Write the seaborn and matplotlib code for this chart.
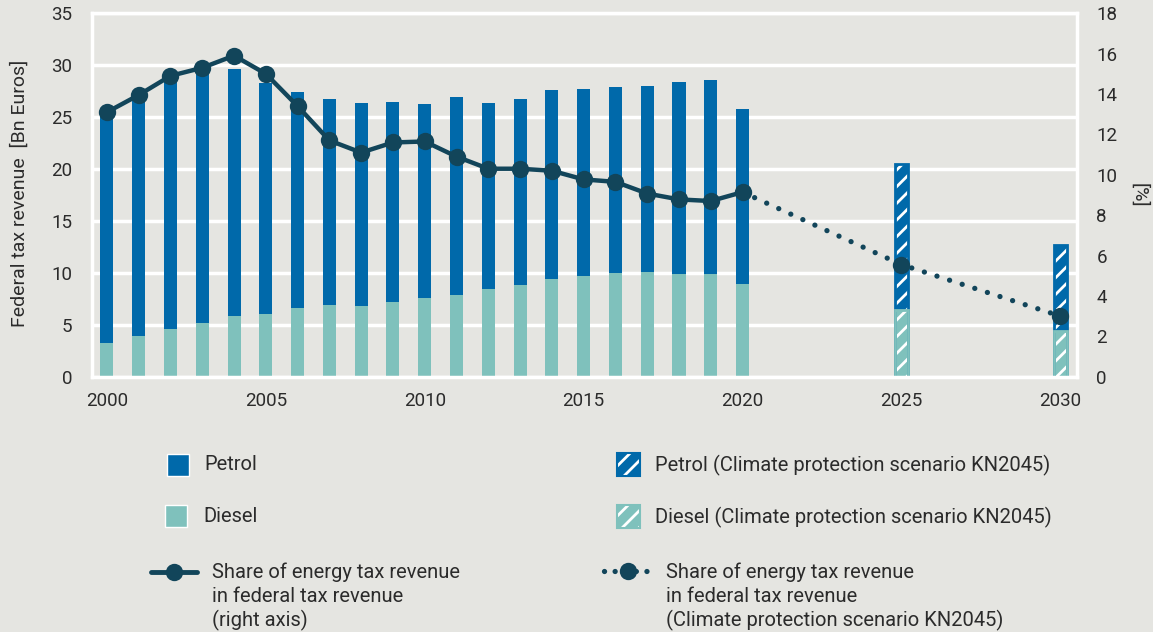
import numpy as np
import pandas as pd
import seaborn as sns
import matplotlib
matplotlib.use("Agg")
import matplotlib.pyplot as plt
from matplotlib.patches import Rectangle
from matplotlib.lines import Line2D

# ---------------- data ----------------
years = list(range(2000, 2021))
petrol = [22.3, 23.2, 24.2, 24.5, 23.8, 22.3, 20.8, 19.8, 19.55, 19.3, 18.7,
          19.0, 18.0, 17.9, 18.2, 18.0, 17.9, 17.9, 18.5, 18.7, 16.9]
diesel = [3.2, 3.9, 4.6, 5.2, 5.8, 6.0, 6.6, 6.9, 6.85, 7.2, 7.6,
          7.9, 8.4, 8.8, 9.4, 9.7, 10.0, 10.1, 9.9, 9.9, 8.9]
share = [13.1, 13.95, 14.9, 15.3, 15.9, 15.0, 13.4, 11.7, 11.1, 11.6, 11.65,
         10.9, 10.3, 10.3, 10.2, 9.77, 9.65, 9.07, 8.78, 8.7, 9.14]

scen_years = [2025, 2030]
scen_petrol = [14.1, 8.3]
scen_diesel = [6.4, 4.4]
scen_share_years = [2020, 2025, 2030]
scen_share = [9.14, 5.55, 3.0]

x_ticks = [2000, 2005, 2010, 2015, 2020, 2025, 2030]
left_ticks = [0, 5, 10, 15, 20, 25, 30, 35]
right_ticks = [0, 2, 4, 6, 8, 10, 12, 14, 16, 18]

labels_left = ["Petrol", "Diesel",
               "Share of energy tax revenue\nin federal tax revenue\n(right axis)"]
labels_right = ["Petrol (Climate protection scenario KN2045)",
                "Diesel (Climate protection scenario KN2045)",
                "Share of energy tax revenue\nin federal tax revenue\n(Climate protection scenario KN2045)"]

# ---------------- style ----------------
BG = "#e5e5e1"
PETROL = "#0069aa"
DIESEL = "#7fc1bc"
LINE = "#12455a"
TXT = "#2b2b2b"

sns.set_style("white")
plt.rcParams["font.family"] = ["Roboto", "DejaVu Sans"]
plt.rcParams["hatch.linewidth"] = 2.0

fig = plt.figure(figsize=(11.53, 6.32), dpi=100, facecolor=BG)
ax = fig.add_axes([0.0795, 0.404, 0.8545, 0.575])
ax.set_facecolor(BG)

hist = pd.DataFrame({"year": years,
                     "total": np.array(petrol) + np.array(diesel),
                     "diesel": diesel})
scen = pd.DataFrame({"year": scen_years,
                     "total": np.array(scen_petrol) + np.array(scen_diesel),
                     "diesel": scen_diesel})

W = 0.41                      # bar width in years
W_SCEN = W / 5.0              # seaborn scales width by min spacing (5 years)
# historic stacked bars
sns.barplot(data=hist, x="year", y="total", native_scale=True, width=W,
            color=PETROL, saturation=1, errorbar=None, linewidth=0, ax=ax)
sns.barplot(data=hist, x="year", y="diesel", native_scale=True, width=W,
            color=DIESEL, saturation=1, errorbar=None, linewidth=0, ax=ax)
# scenario hatched bars
sns.barplot(data=scen, x="year", y="total", native_scale=True, width=W_SCEN,
            color=PETROL, saturation=1, errorbar=None, linewidth=0,
            hatch="//", edgecolor="white", ax=ax)
sns.barplot(data=scen, x="year", y="diesel", native_scale=True, width=W_SCEN,
            color=DIESEL, saturation=1, errorbar=None, linewidth=0,
            hatch="//", edgecolor="white", ax=ax)
sns.barplot(data=scen, x="year", y="total", native_scale=True, width=W_SCEN,
            color=PETROL, saturation=1, errorbar=None, fill=False,
            linewidth=2.0, ax=ax)
sns.barplot(data=scen, x="year", y="diesel", native_scale=True, width=W_SCEN,
            color=DIESEL, saturation=1, errorbar=None, fill=False,
            linewidth=2.0, ax=ax)

ax.set_xlim(1999.52, 2030.52)
ax.set_ylim(0, 35)
ax.set_xticks(x_ticks)
ax.set_xticklabels([str(t) for t in x_ticks])
ax.set_yticks(left_ticks)
ax.set_axisbelow(True)
ax.grid(axis="y", color="white", linewidth=2.5)
ax.grid(axis="x", visible=False)
ax.tick_params(axis="both", length=0, labelsize=13.5, labelcolor=TXT)
ax.tick_params(axis="y", pad=14)
ax.tick_params(axis="x", pad=11)
ax.set_xlabel("")
ax.set_ylabel("Federal tax revenue  [Bn Euros]", fontsize=14, color=TXT)
ax.yaxis.set_label_coords(-0.064, 0.505)
for s in ax.spines.values():
    s.set_visible(True)
    s.set_color("white")
    s.set_linewidth(2.5)

# share lines on right axis
ax2 = ax.twinx()
ax2.patch.set_visible(False)
sns.lineplot(x=scen_share_years, y=scen_share, ax=ax2, color=LINE,
             linewidth=3.8, linestyle=(0, (0.01, 2.5)), dash_capstyle="round",
             marker="o", markersize=12.5, markeredgewidth=0, markevery=[1, 2],
             legend=False)
sns.lineplot(x=years, y=share, ax=ax2, color=LINE, linewidth=3.2,
             marker="o", markersize=12.5, markeredgewidth=0, legend=False)
ax2.set_ylim(0, 18)
ax2.set_yticks(right_ticks)
ax2.tick_params(axis="y", length=0, labelsize=13.5, labelcolor=TXT, pad=14)
ax2.set_ylabel("[%]", rotation=-90, fontsize=14, color=TXT, labelpad=18)
ax2.yaxis.set_label_coords(1.072, 0.5)
for s in ax2.spines.values():
    s.set_visible(False)
ax.set_xlim(1999.52, 2030.52)

# ---------------- custom legend (pixel coordinates) ----------------
lg = fig.add_axes([0, 0, 1, 1])
lg.set_xlim(0, 1153)
lg.set_ylim(632, 0)
lg.axis("off")
lg.patch.set_visible(False)

FS = 14.5
lg.add_patch(Rectangle((166.5, 453.5), 22.5, 22.5, facecolor=PETROL,
                       edgecolor="white", linewidth=1))
lg.text(204, 465, labels_left[0], fontsize=FS, color=TXT, va="center")
lg.add_patch(Rectangle((164.5, 504.5), 22.5, 22.5, facecolor=DIESEL,
                       edgecolor="white", linewidth=1))
lg.text(203, 517, labels_left[1], fontsize=FS, color=TXT, va="center")
lg.add_line(Line2D([151, 197], [572, 572], color=LINE, linewidth=3.5,
                   solid_capstyle="round"))
lg.add_line(Line2D([173.5], [572], color=LINE, marker="o", markersize=12.5,
                   markeredgewidth=0))
for i, t in enumerate(labels_left[2].split("\n")):
    lg.text(212.5, 572 + 24 * i, t, fontsize=FS, color=TXT, va="center")

lg.add_patch(Rectangle((616.5, 452.5), 23, 23, facecolor=PETROL,
                       edgecolor="white", linewidth=0, hatch="//"))
lg.add_patch(Rectangle((616.5, 452.5), 23, 23, facecolor="none",
                       edgecolor=PETROL, linewidth=1.5))
lg.text(655, 465, labels_right[0], fontsize=FS, color=TXT, va="center")
lg.add_patch(Rectangle((616.5, 504.5), 23, 23, facecolor=DIESEL,
                       edgecolor="white", linewidth=0, hatch="//"))
lg.add_patch(Rectangle((616.5, 504.5), 23, 23, facecolor="none",
                       edgecolor=DIESEL, linewidth=1.5))
lg.text(655, 517, labels_right[1], fontsize=FS, color=TXT, va="center")
lg.add_line(Line2D([604, 651], [571, 571], color=LINE, linewidth=3.8,
                   linestyle=(0, (0.01, 2.0)), dash_capstyle="round"))
lg.add_line(Line2D([627.5], [571], color=LINE, marker="o", markersize=12.5,
                   markeredgewidth=0))
for i, t in enumerate(labels_right[2].split("\n")):
    lg.text(666, 572 + 24 * i, t, fontsize=FS, color=TXT, va="center")

fig.savefig("out.png", dpi=100, facecolor=BG)
